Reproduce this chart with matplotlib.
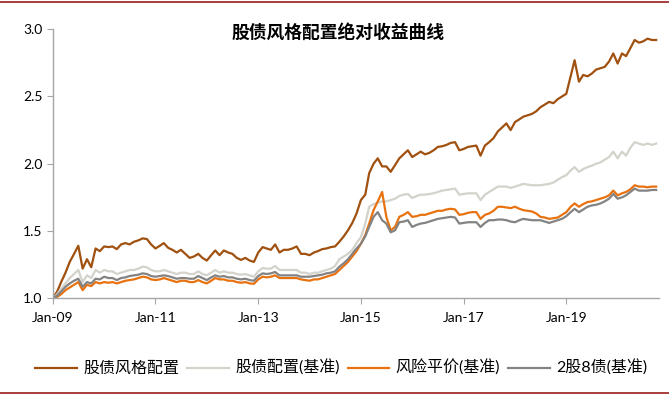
import pandas as pd
import matplotlib.pyplot as plt
import matplotlib.dates as mdates
from matplotlib.lines import Line2D

plt.rcParams['font.family'] = ['Lato', 'Noto Sans CJK SC', 'DejaVu Sans']

# monthly values, Jan 2009 .. Oct 2020
dates = pd.date_range('2009-01-01', '2020-10-01', freq='MS')

style_alloc = [
    1.00, 1.05, 1.12, 1.19, 1.27, 1.33, 1.39, 1.22, 1.29, 1.23, 1.37, 1.35,
    1.385, 1.38, 1.385, 1.365, 1.40, 1.41, 1.40, 1.42, 1.43, 1.445, 1.44, 1.40,
    1.37, 1.39, 1.41, 1.375, 1.36, 1.34, 1.36, 1.33, 1.30, 1.31, 1.33, 1.30,
    1.28, 1.32, 1.355, 1.32, 1.355, 1.34, 1.33, 1.30, 1.285, 1.30, 1.28, 1.27,
    1.34, 1.38, 1.37, 1.36, 1.40, 1.34, 1.36, 1.36, 1.37, 1.385, 1.33, 1.33,
    1.32, 1.34, 1.35, 1.365, 1.37, 1.38, 1.385, 1.42, 1.46, 1.505, 1.56, 1.63,
    1.73, 1.77, 1.93, 2.00, 2.04, 1.98, 1.98, 1.94, 1.99, 2.04, 2.07, 2.10,
    2.05, 2.07, 2.09, 2.07, 2.08, 2.10, 2.125, 2.13, 2.14, 2.155, 2.16, 2.10,
    2.11, 2.125, 2.13, 2.135, 2.06, 2.135, 2.16, 2.19, 2.24, 2.27, 2.30, 2.25,
    2.31, 2.33, 2.35, 2.36, 2.37, 2.39, 2.42, 2.44, 2.46, 2.45, 2.48, 2.50,
    2.52, 2.65, 2.77, 2.61, 2.66, 2.65, 2.67, 2.70, 2.71, 2.72, 2.76, 2.82,
    2.745, 2.82, 2.80, 2.86, 2.92, 2.90, 2.91, 2.93, 2.92, 2.92,
]

stock_bond = [
    1.00, 1.03, 1.07, 1.11, 1.15, 1.18, 1.21, 1.12, 1.17, 1.15, 1.21, 1.19,
    1.21, 1.20, 1.20, 1.18, 1.19, 1.20, 1.21, 1.21, 1.22, 1.235, 1.23, 1.21,
    1.20, 1.20, 1.21, 1.20, 1.19, 1.18, 1.19, 1.19, 1.18, 1.18, 1.20, 1.18,
    1.17, 1.19, 1.21, 1.19, 1.20, 1.19, 1.19, 1.18, 1.175, 1.18, 1.17, 1.16,
    1.20, 1.225, 1.22, 1.22, 1.24, 1.21, 1.21, 1.21, 1.21, 1.21, 1.19, 1.19,
    1.18, 1.19, 1.19, 1.20, 1.21, 1.22, 1.24, 1.29, 1.31, 1.33, 1.36, 1.41,
    1.455, 1.555, 1.68, 1.70, 1.71, 1.72, 1.72, 1.73, 1.74, 1.76, 1.77, 1.775,
    1.745, 1.76, 1.77, 1.77, 1.775, 1.78, 1.79, 1.80, 1.805, 1.81, 1.815, 1.77,
    1.775, 1.78, 1.78, 1.78, 1.73, 1.77, 1.79, 1.81, 1.83, 1.83, 1.83, 1.82,
    1.83, 1.84, 1.85, 1.845, 1.84, 1.84, 1.84, 1.845, 1.85, 1.86, 1.88, 1.90,
    1.915, 1.95, 1.975, 1.94, 1.96, 1.975, 1.985, 2.00, 2.01, 2.03, 2.05, 2.09,
    2.04, 2.09, 2.06, 2.12, 2.16, 2.15, 2.14, 2.15, 2.14, 2.15,
]

risk_parity = [
    1.00, 1.01, 1.03, 1.06, 1.08, 1.10, 1.12, 1.06, 1.10, 1.09, 1.12, 1.11,
    1.12, 1.115, 1.12, 1.11, 1.12, 1.13, 1.135, 1.14, 1.15, 1.16, 1.155, 1.14,
    1.135, 1.14, 1.15, 1.14, 1.13, 1.12, 1.13, 1.13, 1.12, 1.12, 1.135, 1.12,
    1.11, 1.13, 1.15, 1.14, 1.14, 1.13, 1.13, 1.12, 1.115, 1.12, 1.11, 1.107,
    1.14, 1.16, 1.155, 1.16, 1.17, 1.15, 1.15, 1.15, 1.15, 1.15, 1.14, 1.135,
    1.13, 1.14, 1.14, 1.15, 1.16, 1.17, 1.18, 1.21, 1.24, 1.27, 1.31, 1.35,
    1.405, 1.47, 1.555, 1.655, 1.72, 1.79, 1.605, 1.505, 1.53, 1.605, 1.62, 1.64,
    1.605, 1.61, 1.62, 1.62, 1.63, 1.64, 1.65, 1.65, 1.66, 1.665, 1.66, 1.62,
    1.625, 1.635, 1.64, 1.64, 1.59, 1.62, 1.63, 1.65, 1.68, 1.68, 1.675, 1.67,
    1.68, 1.665, 1.655, 1.65, 1.645, 1.63, 1.605, 1.60, 1.59, 1.595, 1.60, 1.62,
    1.64, 1.68, 1.705, 1.68, 1.70, 1.715, 1.72, 1.73, 1.74, 1.75, 1.765, 1.80,
    1.765, 1.78, 1.79, 1.81, 1.84, 1.83, 1.83, 1.825, 1.83, 1.83,
]

two_eight = [
    1.00, 1.02, 1.05, 1.085, 1.11, 1.13, 1.145, 1.085, 1.12, 1.11, 1.145, 1.14,
    1.16, 1.15, 1.15, 1.135, 1.15, 1.155, 1.165, 1.17, 1.175, 1.185, 1.18, 1.165,
    1.16, 1.165, 1.17, 1.165, 1.155, 1.145, 1.15, 1.15, 1.145, 1.145, 1.165, 1.15,
    1.135, 1.155, 1.17, 1.16, 1.165, 1.155, 1.155, 1.145, 1.14, 1.145, 1.135, 1.13,
    1.165, 1.185, 1.18, 1.185, 1.195, 1.17, 1.17, 1.17, 1.17, 1.17, 1.16, 1.16,
    1.16, 1.165, 1.17, 1.175, 1.185, 1.19, 1.20, 1.235, 1.26, 1.29, 1.33, 1.37,
    1.405, 1.46, 1.53, 1.605, 1.64, 1.58, 1.555, 1.49, 1.505, 1.565, 1.57, 1.58,
    1.53, 1.545, 1.555, 1.56, 1.57, 1.58, 1.59, 1.595, 1.60, 1.605, 1.60, 1.555,
    1.56, 1.565, 1.565, 1.565, 1.53, 1.56, 1.58, 1.58, 1.585, 1.585, 1.58, 1.57,
    1.565, 1.58, 1.59, 1.585, 1.58, 1.58, 1.58, 1.57, 1.56, 1.57, 1.58, 1.59,
    1.61, 1.64, 1.665, 1.64, 1.66, 1.68, 1.69, 1.695, 1.705, 1.72, 1.74, 1.775,
    1.74, 1.75, 1.765, 1.79, 1.815, 1.80, 1.80, 1.80, 1.805, 1.805,
]

labels = ['股债风格配置', '股债配置(基准)', '风险平价(基准)', '2股8债(基准)']
colors = ['#a0500f', '#d3d2cb', '#e8720f', '#838383']

fig = plt.figure(figsize=(6.69, 3.95), dpi=100)
ax = fig.add_axes([0.079, 0.245, 0.906, 0.681])

for vals, lab, c in zip([style_alloc, stock_bond, risk_parity, two_eight], labels, colors):
    ax.plot(dates, vals, color=c, lw=1.6, label=lab)

ax.set_xlim(dates[0], dates[-1] + pd.Timedelta(days=20))
ax.set_ylim(1.0, 3.0)
ax.set_yticks([1.0, 1.5, 2.0, 2.5, 3.0])
ax.yaxis.set_major_formatter(plt.FormatStrFormatter('%.1f'))
ax.set_xticks(dates[::24])
ax.xaxis.set_major_formatter(mdates.DateFormatter('Jan-%y'))

for s in ['top', 'right']:
    ax.spines[s].set_visible(False)
for s in ['left', 'bottom']:
    ax.spines[s].set_color('#a6a6a6')
    ax.spines[s].set_linewidth(1.0)
ax.tick_params(axis='both', colors='#a6a6a6', labelcolor='black', labelsize=10, length=4)
ax.tick_params(axis='x', pad=6)

fig.text(0.505, 0.918, '股债风格配置绝对收益曲线', ha='center', va='center',
         fontsize=12.8, fontweight='bold', family=['Noto Sans CJK SC'])

ax.legend(loc='center', bbox_to_anchor=(0.51, 0.068), bbox_transform=fig.transFigure,
          ncol=4, frameon=False, fontsize=11.5, handlelength=2.6,
          handletextpad=0.4, columnspacing=0.5)

fig.add_artist(Line2D([0, 1], [0.995, 0.995], transform=fig.transFigure, color='#9b1b1b', lw=1.2))
fig.add_artist(Line2D([0, 1], [0.005, 0.005], transform=fig.transFigure, color='#9b1b1b', lw=1.2))

fig.savefig('out.png', dpi=100)
